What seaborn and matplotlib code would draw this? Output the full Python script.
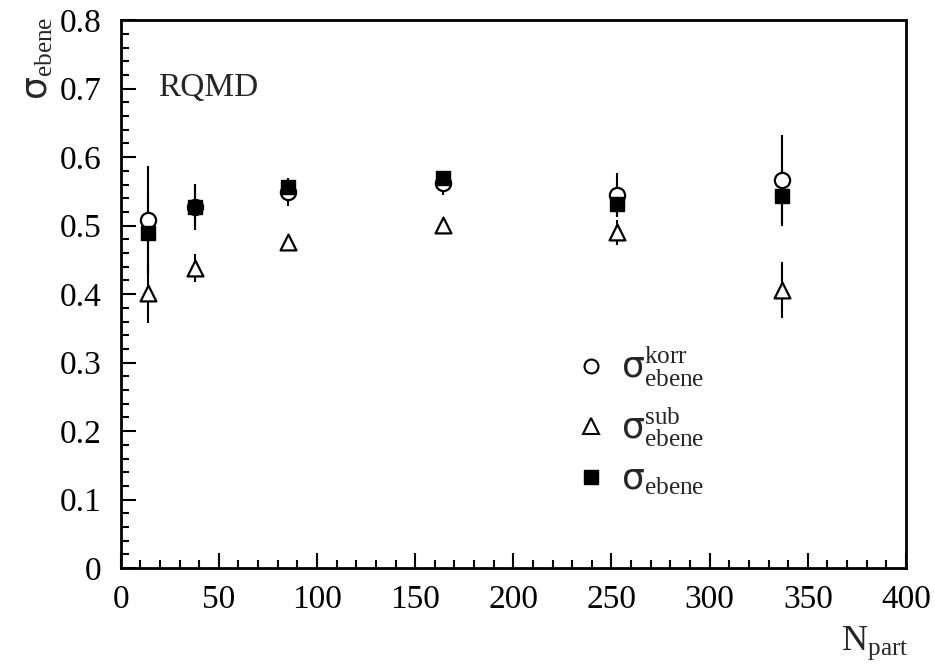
import matplotlib
matplotlib.use("Agg")
import matplotlib.pyplot as plt
from matplotlib.ticker import MultipleLocator, FuncFormatter
from matplotlib.lines import Line2D
import seaborn as sns
import pandas as pd

# Centrality bins (number of participants)
npart = [14, 38, 85, 164, 253, 337]

# sigma_ebene^korr
korr = [0.508, 0.527, 0.549, 0.562, 0.545, 0.566]
korr_err = [0.079, 0.034, 0.021, 0.018, 0.032, 0.066]

# sigma_ebene^sub
sub = [0.401, 0.438, 0.476, 0.501, 0.490, 0.406]
sub_err = [0.043, 0.020, 0.010, 0.005, 0.018, 0.041]

# sigma_ebene
ebene = [0.489, 0.527, 0.557, 0.569, 0.532, 0.543]
ebene_err = [0.060, 0.034, 0.013, 0.011, 0.020, 0.041]

labels = [r"$\mathsf{σ}^{\mathrm{korr}}_{\mathrm{ebene}}$",
          r"$\mathsf{σ}^{\mathrm{sub}}_{\mathrm{ebene}}$",
          r"$\mathsf{σ}_{\mathrm{ebene}}$"]

sns.set_theme(style="ticks")
plt.rcParams["font.family"] = ["Liberation Serif", "DejaVu Serif"]
plt.rcParams["mathtext.fontset"] = "custom"
plt.rcParams["mathtext.rm"] = "Liberation Serif"
plt.rcParams["mathtext.it"] = "Liberation Serif:italic"
plt.rcParams["mathtext.sf"] = "DejaVu Sans"

df = pd.concat([
    pd.DataFrame({"npart": npart, "sigma": korr, "err": korr_err, "kind": labels[0]}),
    pd.DataFrame({"npart": npart, "sigma": sub, "err": sub_err, "kind": labels[1]}),
    pd.DataFrame({"npart": npart, "sigma": ebene, "err": ebene_err, "kind": labels[2]}),
], ignore_index=True)

fig = plt.figure(figsize=(9.35, 6.7), dpi=100)
ax = fig.add_axes([0.129, 0.152, 0.840, 0.818])

# error bars first, markers on top
for lab in [labels[1], labels[0], labels[2]]:
    d = df[df["kind"] == lab]
    ax.errorbar(d["npart"], d["sigma"], yerr=d["err"], fmt="none",
                ecolor="black", elinewidth=1.5, capsize=0, zorder=2)

styles = {
    labels[1]: dict(marker="^", s=130, facecolor="white", edgecolor="black", linewidth=1.6),
    labels[0]: dict(marker="o", s=120, facecolor="white", edgecolor="black", linewidth=1.6),
    labels[2]: dict(marker="s", s=110, facecolor="black", edgecolor="black", linewidth=1.0),
}
for z, lab in enumerate([labels[1], labels[0], labels[2]]):
    d = df[df["kind"] == lab]
    st = styles[lab]
    sns.scatterplot(data=d, x="npart", y="sigma", ax=ax, marker=st["marker"],
                    s=st["s"], color=st["facecolor"], edgecolor=st["edgecolor"],
                    linewidth=st["linewidth"], zorder=3 + z, legend=False)

ax.set_xlim(0, 400)
ax.set_ylim(0, 0.8)
ax.xaxis.set_major_locator(MultipleLocator(50))
ax.xaxis.set_minor_locator(MultipleLocator(10))
ax.yaxis.set_major_locator(MultipleLocator(0.1))
ax.yaxis.set_minor_locator(MultipleLocator(0.02))
ax.yaxis.set_major_formatter(FuncFormatter(
    lambda v, p: "0" if abs(v) < 1e-9 else f"{v:.1f}"))
ax.tick_params(which="both", direction="in", top=False, right=False,
               labelsize=24, width=1.5, colors="black")
ax.tick_params(axis="y", which="major", pad=14)
ax.tick_params(axis="x", which="major", pad=12)
ax.tick_params(which="major", length=11)
ax.tick_params(which="minor", length=6)
for sp in ax.spines.values():
    sp.set_linewidth(2)
    sp.set_color("black")
ax.set_xlabel("")
ax.set_ylabel("")

ax.text(0.048, 0.876, "RQMD", transform=ax.transAxes, fontsize=24,
        ha="left", va="center")

# axis titles
fig.text(0.042, 0.975, r"$\mathsf{σ}_{\mathrm{ebene}}$", rotation=90,
         fontsize=26, ha="center", va="top")
fig.text(0.936, 0.04, r"$\mathrm{N}_{\mathrm{part}}$", fontsize=26,
         ha="center", va="center")

# legend
handles = [
    Line2D([], [], ls="none", marker="o", ms=10, mfc="white", mec="black", mew=1.5),
    Line2D([], [], ls="none", marker="^", ms=11, mfc="white", mec="black", mew=1.5),
    Line2D([], [], ls="none", marker="s", ms=10, mfc="black", mec="black"),
]
ax.legend(handles, labels, loc="center left", bbox_to_anchor=(0.557, 0.268),
          frameon=False, fontsize=26, handlelength=0.8, handletextpad=0.45,
          labelspacing=0.42, borderpad=0)

fig.savefig("out.png", dpi=100)
